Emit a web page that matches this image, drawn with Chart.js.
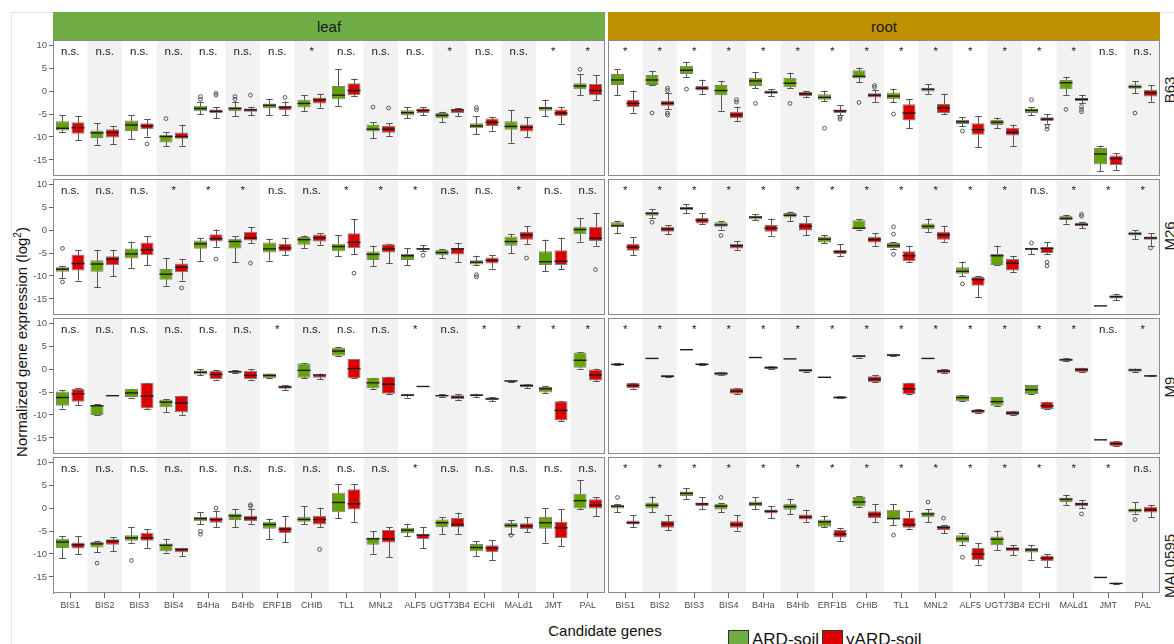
<!DOCTYPE html>
<html>
<head>
<meta charset="utf-8">
<script src="https://cdn.jsdelivr.net/npm/chart.js@4.4.1/dist/chart.umd.min.js"></script>
<style>
  html, body { margin: 0; padding: 0; background: #fff; }
  body { width: 1174px; height: 644px; position: relative; overflow: hidden;
         font-family: 'Liberation Sans', Arial, sans-serif; color: #111; }
  canvas { position: absolute; }
  .frame { position: absolute; left: 11px; top: 12px; right: -2px; bottom: -2px;
           border-left: 1px solid #e4e4e4; border-top: 1px solid #e4e4e4; }
  .strip { position: absolute; top: 12px; height: 28px; display: flex; align-items: center;
           justify-content: center; font-size: 15px; color: #1a1a1a; }
  .rowlab { position: absolute; font-size: 15px; color: #222; white-space: nowrap;
            transform: translate(-50%, -50%) rotate(-90deg); }
  .ytitle { position: absolute; left: 21px; top: 342px; font-size: 15px; white-space: nowrap;
            transform: translate(-50%, -50%) rotate(-90deg); }
  .ytitle sup { font-size: 10px; }
  .xtitle { position: absolute; left: 605px; top: 630px; font-size: 15px; white-space: nowrap;
            transform: translate(-50%, -50%); }
  .legend { position: absolute; top: 630px; left: 728px; display: flex; align-items: flex-start;
            font-size: 17px; }
  .legend .sw { width: 19px; height: 19px; border: 1px solid #333; margin-right: 3px; }
  .legend .txt { margin-right: 3px; line-height: 20px; }
</style>
</head>
<body>
<div class="frame"></div>
<div class="strip" style="left:53px;width:552px;background:#70ad47;">leaf</div>
<div class="strip" style="left:608px;width:552px;background:#bf9000;">root</div>

<div class="rowlab" style="left:1169px;top:90px;">B63</div>
<div class="rowlab" style="left:1169px;top:236px;">M26</div>
<div class="rowlab" style="left:1169px;top:387px;">M9</div>
<div class="rowlab" style="left:1169px;top:566px;">MAL0595</div>

<div class="ytitle">Normalized gene expression (log<sup>2</sup>)</div>
<div class="xtitle">Candidate genes</div>
<div class="legend">
  <div class="sw" style="background:#70ad47;"></div><div class="txt">ARD-soil</div>
  <div class="sw" style="background:#e00000;"></div><div class="txt">γARD-soil</div>
</div>

<script>
const genes = ['BIS1','BIS2','BIS3','BIS4','B4Ha','B4Hb','ERF1B','CHIB','TL1','MNL2','ALF5','UGT73B4','ECHI','MALd1','JMT','PAL'];
const yTicks = [-15, -10, -5, 0, 5, 10];

// Box statistics per gene: [min, q1, median, q3, max]; outliers listed separately.

// ---- B63 ----
const leafB63Ard = [[-9.0,-8.6,-8.1,-6.6,-5.2],[-11.7,-10.2,-9.1,-8.6,-7.0],[-10.4,-8.7,-7.4,-6.4,-5.3],[-12.0,-11.2,-9.9,-9.5,-9.0],
  [-5.0,-4.4,-3.8,-3.2,-2.3],[-5.4,-4.4,-3.8,-3.4,-2.3],[-5.2,-3.7,-3.1,-2.7,-1.7],[-4.3,-3.6,-2.7,-1.9,-0.9],
  [-3.2,-1.8,-0.9,1.1,4.7],[-10.3,-8.8,-8.3,-7.3,-6.8],[-5.9,-5.3,-4.7,-4.2,-3.5],[-6.7,-5.9,-5.3,-4.8,-4.5],
  [-9.4,-8.1,-7.6,-7.0,-5.5],[-11.2,-8.4,-7.7,-6.6,-4.1],[-5.5,-4.3,-3.7,-3.4,-1.9],[-0.9,0.4,1.1,1.7,3.7]];
const leafB63ArdOut = [[],[],[],[-6.0],[-1.2,-1.8],[-1.2,-1.8],[],[],[],[-3.5],[],[],[-3.6,-4.1],[],[],[4.7]];
const leafB63Gamma = [[-10.7,-9.3,-8.0,-6.8,-5.5],[-11.6,-10.1,-9.0,-8.3,-7.6],[-9.9,-8.3,-7.6,-7.0,-6.1],[-11.9,-10.4,-9.9,-9.0,-7.3],
  [-5.9,-4.8,-4.4,-4.0,-3.5],[-5.3,-4.5,-4.1,-3.8,-3.4],[-5.2,-4.2,-3.5,-3.2,-2.3],[-3.6,-2.7,-1.9,-1.4,-0.6],
  [-1.1,-0.9,0.1,1.7,2.7],[-9.7,-9.1,-8.3,-7.6,-7.0],[-5.3,-4.8,-4.2,-3.8,-3.5],[-5.5,-4.8,-4.1,-4.0,-3.8],
  [-8.6,-7.6,-6.8,-6.0,-5.7],[-10.0,-8.8,-7.9,-7.3,-5.7],[-7.1,-5.5,-4.8,-4.0,-3.5],[-1.9,-0.9,0.1,1.5,3.4]];
const leafB63GammaOut = [[],[],[-11.5],[],[-0.5,-0.9],[-0.9],[-1.4],[],[],[-3.7],[],[],[],[],[],[]];
const leafB63Sig = ['n.s.','n.s.','n.s.','n.s.','n.s.','n.s.','n.s.','*','n.s.','n.s.','n.s.','*','n.s.','n.s.','*','*'];

const rootB63Ard = [[-0.9,1.3,2.4,3.7,4.7],[1.2,1.3,2.4,3.5,4.4],[3.1,3.7,4.5,5.5,6.3],[-4.3,-0.9,0.1,1.3,2.2],
  [0.6,1.1,2.2,2.9,4.1],[0.6,0.8,1.7,2.9,4.0],[-2.2,-1.9,-1.4,-0.7,0.1],[1.9,2.7,3.2,4.5,5.1],
  [-2.4,-1.8,-1.1,-0.3,0.5],[-0.6,-0.1,0.4,0.6,1.5],[-7.6,-7.2,-6.7,-6.3,-5.7],[-8.1,-7.4,-6.8,-6.3,-5.8],
  [-5.2,-4.8,-4.2,-3.8,-3.5],[-0.8,0.4,1.8,2.4,3.1],[-17.4,-16.0,-13.7,-12.4,-11.9],[-0.5,0.5,0.9,1.4,2.2]];
const rootB63ArdOut = [[],[-4.8],[0.4],[],[-2.7],[-2.7],[-8.1],[-2.5],[-5.0],[],[-8.7],[],[-1.9],[-4.0],[],[-4.8]];
const rootB63Gamma = [[-4.7,-3.5,-2.7,-1.9,0.1],[-4.0,-3.2,-2.7,-2.1,-0.4],[-0.6,0.1,0.6,1.1,2.5],[-6.6,-5.9,-5.2,-4.5,-3.4],
  [-1.1,-0.6,-0.3,0.1,0.4],[-1.4,-1.1,-0.6,-0.2,-0.1],[-5.2,-4.8,-4.3,-4.0,-3.1],[-2.3,-1.4,-0.9,-0.5,0.2],
  [-8.1,-6.4,-4.8,-2.9,-1.8],[-5.0,-4.8,-3.7,-2.8,-0.6],[-12.2,-9.5,-8.4,-7.0,-5.5],[-11.9,-9.7,-9.0,-8.0,-7.3],
  [-7.1,-6.6,-6.1,-5.7,-5.0],[-2.7,-2.2,-1.8,-1.5,-0.8],[-17.1,-16.1,-14.7,-14.0,-13.5],[-2.3,-1.2,-0.4,0.2,1.2]];
const rootB63GammaOut = [[],[0.6,0.1,-4.8,-5.2],[],[-1.9,-2.4],[],[],[-5.7,-6.1],[1.2,0.8],[],[],[],[],[-7.7,-8.3],[-3.4,-4.0,-4.5],[],[]];
const rootB63Sig = ['*','*','*','*','*','*','*','*','*','*','*','*','*','*','n.s.','n.s.'];

// ---- M26 ----
const leafM26Ard = [[-10.5,-9.1,-8.5,-8.1,-7.8],[-12.5,-9.1,-7.4,-6.6,-4.4],[-8.3,-6.2,-5.2,-4.0,-2.5],[-12.1,-10.8,-9.6,-8.5,-6.1],
  [-6.7,-4.1,-3.0,-2.3,-1.7],[-7.0,-4.0,-2.5,-1.9,-1.4],[-6.7,-4.9,-4.1,-2.7,-1.9],[-3.9,-3.2,-2.1,-1.5,-1.2],
  [-5.7,-4.6,-3.6,-3.0,-1.1],[-7.8,-6.5,-5.3,-4.7,-3.4],[-7.6,-6.5,-5.6,-5.2,-4.0],[-6.0,-5.5,-4.9,-4.3,-4.1],
  [-7.6,-7.5,-7.0,-6.6,-5.6],[-5.0,-3.4,-2.5,-1.4,-0.8],[-9.0,-7.6,-6.9,-4.6,-2.1],[-2.5,-0.9,0.1,0.7,2.6]];
const leafM26ArdOut = [[-4.0,-11.3],[],[],[],[],[],[],[],[],[],[],[],[-9.7,-10.2],[],[],[]];
const leafM26Gamma = [[-11.0,-8.8,-7.3,-5.3,-4.3],[-10.1,-7.6,-6.3,-5.7,-4.4],[-7.7,-5.5,-4.3,-2.7,-1.4],[-11.0,-9.2,-8.1,-7.3,-6.3],
  [-3.6,-2.5,-1.9,-0.9,0.1],[-2.8,-2.3,-1.7,-0.4,0.7],[-5.4,-4.7,-3.9,-3.0,-1.7],[-3.2,-2.5,-1.7,-1.0,-0.7],
  [-5.2,-3.9,-2.7,-0.7,2.4],[-7.2,-4.9,-4.1,-3.1,-3.0],[-4.6,-4.4,-4.1,-3.9,-3.3],[-7.0,-5.3,-4.1,-3.9,-2.8],
  [-8.4,-7.3,-6.6,-6.0,-5.5],[-3.0,-2.1,-1.1,-0.4,0.8],[-8.5,-7.6,-6.8,-4.4,-1.7],[-3.4,-2.4,-1.8,0.7,3.6]];
const leafM26GammaOut = [[],[],[],[-12.6],[-6.3],[-7.2],[],[],[-9.4],[],[-5.5],[],[],[-6.1],[],[-8.6]];
const leafM26Sig = ['n.s.','n.s.','n.s.','*','*','*','n.s.','n.s.','*','*','*','n.s.','n.s.','*','n.s.','n.s.'];

const rootM26Ard = [[-0.7,0.7,0.9,1.7,1.9],[2.6,3.1,3.6,3.9,4.6],[3.7,4.3,4.7,5.0,5.6],[0.1,0.7,1.1,1.7,1.9],
  [2.1,2.3,2.8,3.1,3.4],[2.0,2.7,3.2,3.7,4.0],[-2.8,-2.7,-2.0,-1.4,-1.1],[0.1,0.2,0.4,2.1,2.3],
  [-4.1,-3.9,-3.4,-2.8,-2.7],[-0.4,0.2,0.8,1.4,2.5],[-10.1,-9.5,-9.0,-8.1,-6.9],[-7.6,-7.6,-5.6,-5.2,-3.4],
  [-5.3,-4.4,-4.1,-3.9,-3.9],[1.4,2.1,2.5,3.1,3.3],[-16.5,-16.5,-16.5,-16.5,-16.5],[-2.0,-1.2,-0.8,-0.4,-0.1]];
const rootM26ArdOut = [[],[1.7],[],[-1.2],[],[],[],[],[0.7,-0.9,-5.3],[],[-11.7],[],[-2.8],[],[],[]];
const rootM26Gamma = [[-5.4,-4.5,-3.7,-3.0,-1.5],[-0.9,-0.4,0.2,0.7,1.1],[1.2,1.4,2.1,2.6,3.7],[-4.3,-4.0,-3.4,-3.0,-2.4],
  [-1.2,-0.4,0.4,1.1,2.5],[-1.1,-0.1,0.8,1.5,3.0],[-5.6,-5.2,-4.7,-4.3,-3.1],[-3.4,-2.7,-2.1,-1.5,-0.7],
  [-7.0,-6.8,-5.6,-4.6,-3.4],[-2.5,-2.1,-1.1,-0.4,0.9],[-14.6,-12.1,-10.8,-10.2,-10.0],[-9.1,-8.8,-7.2,-6.3,-5.6],
  [-5.2,-5.0,-4.0,-3.7,-2.7],[0.4,0.8,1.2,1.5,1.8],[-15.3,-14.9,-14.5,-14.2,-13.9],[-3.4,-2.1,-1.7,-1.4,-0.7]];
const rootM26GammaOut = [[],[],[],[],[],[],[],[],[],[],[],[],[-7.0,-7.8],[3.4,3.0],[],[-3.9]];
const rootM26Sig = ['*','*','*','*','*','*','*','*','*','*','*','*','n.s.','*','*','*'];

// ---- M9 ----
const leafM9Ard = [[-8.6,-8.0,-6.2,-4.9,-4.6],[-10.0,-10.0,-8.0,-7.8,-7.7],[-6.2,-6.1,-5.2,-4.3,-4.3],[-9.3,-8.3,-7.2,-6.7,-6.5],
  [-1.3,-1.2,-0.7,-0.3,-0.1],[-0.9,-0.8,-0.6,-0.4,-0.3],[-2.0,-2.0,-1.4,-1.0,-1.0],[-1.9,-1.9,-0.3,1.2,1.2],
  [2.9,2.9,3.9,4.6,4.8],[-4.3,-4.2,-3.0,-1.9,-1.9],[-6.2,-5.9,-5.7,-5.4,-5.4],[-6.1,-5.9,-5.8,-5.7,-5.5],
  [-6.1,-5.9,-5.7,-5.5,-5.4],[-2.8,-2.7,-2.6,-2.5,-2.5],[-5.2,-5.1,-4.3,-3.9,-3.8],[0.1,0.3,1.9,3.6,3.6]];
const leafM9ArdOut = [[],[],[],[],[],[],[],[],[],[],[],[],[],[],[],[]];
const leafM9Gamma = [[-7.8,-7.1,-5.4,-4.3,-4.2],[-5.8,-5.8,-5.8,-5.8,-5.8],[-8.7,-8.6,-5.9,-3.0,-3.0],[-9.9,-9.4,-7.4,-5.8,-5.8],
  [-2.3,-2.2,-1.2,-0.4,-0.3],[-2.3,-2.2,-1.4,-0.4,0.0],[-4.5,-4.3,-3.9,-3.6,-3.5],[-2.2,-1.9,-1.3,-1.2,-1.0],
  [-2.0,-2.0,0.1,2.2,2.2],[-5.5,-5.4,-3.3,-1.7,-1.7],[-3.8,-3.8,-3.8,-3.8,-3.8],[-6.7,-6.5,-6.1,-5.7,-5.5],
  [-7.0,-6.8,-6.5,-6.2,-6.1],[-4.1,-3.9,-3.6,-3.3,-3.3],[-11.3,-11.2,-9.0,-7.0,-6.9],[-2.6,-2.5,-1.3,0.0,0.1]];
const leafM9GammaOut = [[],[],[],[],[],[],[],[],[],[],[],[],[],[],[],[]];
const leafM9Sig = ['n.s.','n.s.','n.s.','n.s.','n.s.','n.s.','*','n.s.','n.s.','n.s.','*','n.s.','*','*','*','*'];

const rootM9Ard = [[0.8,0.85,1.0,1.15,1.2],[2.3,2.3,2.3,2.3,2.3],[4.2,4.2,4.2,4.2,4.2],[-1.4,-1.4,-1.0,-0.6,-0.6],
  [2.5,2.5,2.5,2.5,2.5],[2.2,2.2,2.2,2.2,2.2],[-1.8,-1.8,-1.8,-1.8,-1.8],[2.5,2.5,2.8,3.0,3.0],
  [2.8,2.8,3.0,3.3,3.3],[2.3,2.3,2.3,2.3,2.3],[-7.0,-7.0,-6.2,-5.7,-5.7],[-8.0,-8.0,-7.1,-6.1,-6.1],
  [-5.5,-5.5,-4.5,-3.5,-3.5],[1.7,1.7,2.0,2.3,2.3],[-15.4,-15.4,-15.4,-15.4,-15.4],[-0.6,-0.6,-0.2,0.1,0.1]];
const rootM9ArdOut = [[],[],[],[],[],[],[],[],[],[],[],[],[],[],[],[]];
const rootM9Gamma = [[-4.3,-4.2,-3.6,-3.0,-3.0],[-1.8,-1.8,-1.6,-1.3,-1.3],[0.9,0.9,1.0,1.2,1.2],[-5.5,-5.4,-4.8,-4.2,-4.1],
  [0.0,0.0,0.3,0.6,0.6],[-0.6,-0.6,-0.3,0.0,0.0],[-6.4,-6.4,-6.2,-5.9,-5.9],[-2.9,-2.8,-2.2,-1.6,-1.4],
  [-5.5,-5.5,-4.3,-3.0,-3.0],[-0.9,-0.9,-0.4,-0.1,-0.1],[-9.6,-9.6,-9.1,-8.8,-8.8],[-10.0,-10.0,-9.6,-9.1,-9.1],
  [-8.7,-8.7,-8.0,-7.1,-7.1],[-0.7,-0.7,-0.1,0.3,0.3],[-16.8,-16.8,-16.2,-15.7,-15.7],[-1.6,-1.6,-1.5,-1.4,-1.4]];
const rootM9GammaOut = [[],[],[],[],[],[],[],[],[],[],[],[],[],[],[],[]];
const rootM9Sig = ['*','*','*','*','*','*','*','*','*','*','*','*','*','*','n.s.','*'];

// ---- MAL0595 ----
const leafMalArd = [[-10.9,-8.7,-7.4,-6.7,-6.1],[-9.6,-8.6,-7.8,-7.4,-7.1],[-7.5,-7.1,-6.5,-5.9,-4.1],[-9.7,-9.4,-8.1,-7.7,-6.7],
  [-3.5,-2.9,-2.3,-1.9,-0.9],[-4.2,-2.6,-1.7,-1.2,-0.3],[-6.8,-4.5,-3.6,-3.0,-2.3],[-3.5,-3.0,-2.5,-1.9,0.4],
  [-2.2,-0.9,1.2,3.3,5.2],[-9.9,-8.0,-6.7,-6.4,-5.1],[-6.1,-5.5,-4.8,-4.3,-3.4],[-5.6,-4.2,-3.2,-2.5,-2.0],
  [-10.4,-9.4,-8.6,-7.8,-7.2],[-5.7,-4.3,-3.8,-3.2,-2.6],[-7.5,-4.5,-3.2,-1.9,0.0],[-0.3,-0.1,1.6,3.1,6.0]];
const leafMalArdOut = [[],[-12.0],[-11.4],[],[-5.1,-5.7],[],[],[],[],[],[],[],[],[-5.9],[],[]];
const leafMalGamma = [[-10.1,-8.8,-8.0,-7.5,-6.1],[-9.4,-8.0,-7.2,-6.8,-6.4],[-8.8,-7.1,-6.5,-5.4,-4.6],[-10.4,-9.6,-9.0,-8.7,-8.6],
  [-4.1,-3.2,-2.5,-2.0,-0.7],[-3.4,-2.8,-2.2,-1.7,-0.3],[-7.4,-5.5,-4.6,-4.1,-1.7],[-4.1,-3.6,-2.5,-1.7,0.1],
  [-3.0,-0.3,0.9,4.1,5.2],[-10.7,-7.5,-6.7,-4.8,-4.2],[-8.7,-6.8,-5.9,-5.6,-4.2],[-5.6,-4.2,-3.6,-2.2,-1.0],
  [-11.3,-9.6,-8.7,-8.1,-7.0],[-5.2,-4.6,-3.9,-3.3,-2.0],[-8.3,-6.5,-4.3,-3.0,-0.3],[-1.7,-0.1,0.6,1.9,2.4]];
const leafMalGammaOut = [[],[],[],[],[0.0],[0.7,0.4],[],[-9.0],[],[],[],[],[],[],[],[]];
const leafMalSig = ['n.s.','n.s.','n.s.','n.s.','n.s.','n.s.','n.s.','n.s.','n.s.','n.s.','*','n.s.','n.s.','n.s.','n.s.','n.s.'];

const rootMalArd = [[-0.9,-0.1,0.4,0.7,0.9],[-0.9,-0.1,0.6,1.2,2.5],[2.0,2.6,3.2,3.6,4.3],[-0.9,-0.3,0.4,0.9,1.0],
  [-0.3,0.4,0.9,1.4,2.3],[-1.4,-0.4,0.3,0.9,2.0],[-4.2,-4.1,-3.0,-2.5,-1.7],[0.2,0.4,1.3,2.4,2.6],
  [-3.8,-2.5,-2.3,-0.4,0.9],[-3.0,-2.0,-1.3,-0.9,-0.3],[-8.1,-7.5,-6.7,-5.9,-5.4],[-9.1,-8.1,-6.8,-6.2,-4.9],
  [-11.2,-9.7,-9.1,-8.7,-8.1],[0.7,1.3,1.9,2.3,2.9],[-15.1,-15.1,-15.1,-15.1,-15.1],[-1.2,-1.0,-0.5,-0.1,1.2]];
const rootMalArdOut = [[2.3],[],[],[2.3],[],[],[],[],[-5.9],[1.3],[-10.7],[],[],[],[],[-2.5]];
const rootMalGamma = [[-4.2,-3.6,-3.2,-2.7,-1.6],[-4.8,-4.3,-3.5,-2.8,-1.6],[-0.3,0.4,0.9,1.2,2.3],[-4.9,-4.3,-3.6,-2.9,-1.6],
  [-2.2,-1.2,-0.7,-0.3,0.4],[-3.0,-2.5,-2.0,-1.4,-0.4],[-7.1,-6.4,-5.7,-4.8,-4.3],[-3.0,-2.2,-1.4,-0.7,0.9],
  [-4.5,-4.3,-3.6,-2.2,-0.7],[-5.5,-4.8,-4.2,-3.9,-3.8],[-12.3,-11.3,-10.0,-8.7,-7.7],[-10.3,-9.4,-8.8,-8.6,-8.1],
  [-12.9,-11.6,-10.9,-10.3,-10.1],[-0.1,0.4,0.9,1.2,1.7],[-16.6,-16.5,-16.4,-16.3,-16.2],[-2.0,-1.0,-0.4,0.3,0.7]];
const rootMalGammaOut = [[],[],[],[],[],[],[],[],[],[-2.2],[],[],[],[-1.3],[],[]];
const rootMalSig = ['*','*','*','*','*','*','*','*','*','*','*','*','*','*','*','n.s.'];

const Y_MIN = -18.48, Y_MAX = 11.09, SIG_LEVEL = 8.5;
const FONT = "'Liberation Sans', Arial, sans-serif";

// Whiskers behind boxes, median/outliers/labels on top, light grey bands for alternate genes.
const boxPlotPlugin = {
  id: 'boxPlot',
  beforeDatasetsDraw(chart) {
    const { ctx, chartArea: a, scales: { x, y } } = chart;
    const band = (a.right - a.left) / genes.length;
    ctx.save();
    ctx.fillStyle = '#f2f2f2';
    genes.forEach((g, i) => {
      if (i % 2 === 1) {
        const cx = x.getPixelForValue(i);
        ctx.fillRect(cx - band / 2, a.top, band, a.bottom - a.top);
      }
    });
    ctx.strokeStyle = '#555';
    ctx.lineWidth = 1;
    chart.data.datasets.forEach((ds, di) => {
      const meta = chart.getDatasetMeta(di);
      ds.stats.forEach((s, i) => {
        const el = meta.data[i];
        const cx = Math.round(el.x) + 0.5;
        const half = el.width * 0.25;
        const yLo = y.getPixelForValue(s[0]);
        const yHi = y.getPixelForValue(s[4]);
        if (s[4] - s[0] < 0.01) return;
        ctx.beginPath();
        ctx.moveTo(cx, yHi); ctx.lineTo(cx, yLo);
        ctx.moveTo(cx - half, Math.round(yHi) + 0.5); ctx.lineTo(cx + half, Math.round(yHi) + 0.5);
        ctx.moveTo(cx - half, Math.round(yLo) + 0.5); ctx.lineTo(cx + half, Math.round(yLo) + 0.5);
        ctx.stroke();
      });
    });
    ctx.restore();
  },
  afterDatasetsDraw(chart, args, opts) {
    const { ctx, scales: { x, y } } = chart;
    ctx.save();
    chart.data.datasets.forEach((ds, di) => {
      const meta = chart.getDatasetMeta(di);
      ds.stats.forEach((s, i) => {
        const el = meta.data[i];
        const w = el.width;
        const ym = y.getPixelForValue(s[2]);
        ctx.strokeStyle = '#1c1c1c';
        ctx.lineWidth = 1.4;
        ctx.beginPath();
        ctx.moveTo(el.x - w / 2, ym); ctx.lineTo(el.x + w / 2, ym);
        ctx.stroke();
        ctx.strokeStyle = '#555';
        ctx.lineWidth = 1;
        (ds.outliers[i] || []).forEach(v => {
          ctx.beginPath();
          ctx.arc(el.x, y.getPixelForValue(v), 1.9, 0, Math.PI * 2);
          ctx.stroke();
        });
      });
    });
    ctx.fillStyle = '#1a1a1a';
    ctx.textAlign = 'center';
    ctx.textBaseline = 'middle';
    ctx.font = '11.5px ' + FONT;
    const ySig = y.getPixelForValue(SIG_LEVEL);
    (opts.sig || []).forEach((t, i) => {
      ctx.fillText(t, x.getPixelForValue(i), ySig);
    });
    ctx.restore();
  },
  afterDraw(chart) {
    const { ctx, chartArea: a } = chart;
    ctx.save();
    ctx.strokeStyle = '#8a8a8a';
    ctx.lineWidth = 1;
    ctx.strokeRect(a.left + 0.5, a.top + 0.5, a.right - a.left - 1, a.bottom - a.top - 1);
    ctx.restore();
  }
};

function makePanel(left, top, width, height, showY, showX, ard, ardOut, gamma, gammaOut, sig) {
  const canvas = document.createElement('canvas');
  canvas.width = width;
  canvas.height = height;
  canvas.style.left = left + 'px';
  canvas.style.top = top + 'px';
  document.body.appendChild(canvas);
  new Chart(canvas, {
    type: 'bar',
    data: {
      labels: genes,
      datasets: [
        { label: 'ARD-soil', data: ard.map(s => [s[1], s[3]]), stats: ard, outliers: ardOut,
          backgroundColor: '#64a300', borderColor: '#808080', borderWidth: 1, borderSkipped: false,
          categoryPercentage: 0.9, barPercentage: 0.84 },
        { label: 'γARD-soil', data: gamma.map(s => [s[1], s[3]]), stats: gamma, outliers: gammaOut,
          backgroundColor: '#dc0000', borderColor: '#808080', borderWidth: 1, borderSkipped: false,
          categoryPercentage: 0.9, barPercentage: 0.84 }
      ]
    },
    options: {
      responsive: false,
      animation: false,
      events: [],
      layout: { padding: 0 },
      plugins: { legend: { display: false }, tooltip: { enabled: false }, boxPlot: { sig: sig } },
      scales: {
        x: {
          type: 'category', display: showX, offset: true,
          grid: { display: true, drawOnChartArea: false, offset: false, tickLength: 5, color: '#666' },
          border: { display: false },
          ticks: { font: { size: 9, family: FONT }, color: '#4a4a4a', maxRotation: 0, minRotation: 0, autoSkip: false, padding: 2 },
          afterFit(s) { s.height = showX ? 22 : 0; s.paddingLeft = 0; s.paddingRight = 0; }
        },
        y: {
          type: 'linear', display: showY, min: Y_MIN, max: Y_MAX,
          afterBuildTicks(s) { s.ticks = yTicks.map(v => ({ value: v })); },
          grid: { display: true, drawOnChartArea: false, tickLength: 4, color: '#666' },
          border: { display: true, color: '#777' },
          ticks: { font: { size: 9.5, family: FONT }, color: '#555', padding: 2 },
          afterFit(s) { s.width = showY ? 53 : 0; s.paddingTop = 0; s.paddingBottom = 0; }
        }
      }
    },
    plugins: [boxPlotPlugin]
  });
}

const rowTops = [40, 179, 318, 457];
const PANEL_H = 136;
const panels = [
  [leafB63Ard, leafB63ArdOut, leafB63Gamma, leafB63GammaOut, leafB63Sig, rootB63Ard, rootB63ArdOut, rootB63Gamma, rootB63GammaOut, rootB63Sig],
  [leafM26Ard, leafM26ArdOut, leafM26Gamma, leafM26GammaOut, leafM26Sig, rootM26Ard, rootM26ArdOut, rootM26Gamma, rootM26GammaOut, rootM26Sig],
  [leafM9Ard, leafM9ArdOut, leafM9Gamma, leafM9GammaOut, leafM9Sig, rootM9Ard, rootM9ArdOut, rootM9Gamma, rootM9GammaOut, rootM9Sig],
  [leafMalArd, leafMalArdOut, leafMalGamma, leafMalGammaOut, leafMalSig, rootMalArd, rootMalArdOut, rootMalGamma, rootMalGammaOut, rootMalSig]
];
panels.forEach((p, r) => {
  const last = r === panels.length - 1;
  const h = PANEL_H + (last ? 22 : 0);
  makePanel(0, rowTops[r], 605, h, true, last, p[0], p[1], p[2], p[3], p[4]);
  makePanel(608, rowTops[r], 552, h, false, last, p[5], p[6], p[7], p[8], p[9]);
});
</script>
</body>
</html>
